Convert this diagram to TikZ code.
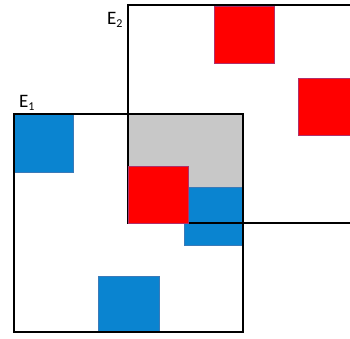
\documentclass[tikz,border=0pt]{standalone}
\usepackage{fontspec}
\setmainfont{Carlito}
\definecolor{bluesq}{HTML}{0A84D0}
\definecolor{bluerim}{HTML}{3A7AB8}
\definecolor{redsq}{HTML}{FF0000}
\definecolor{redrim}{HTML}{B0306A}
\definecolor{graysq}{HTML}{C8C8C8}
\tikzset{
  bluebox/.style={fill=bluesq,draw=bluerim,line width=0.6pt},
  redbox/.style={fill=redsq,draw=redrim,line width=0.6pt},
  frame/.style={draw=black,line width=2pt},
  elabel/.style={anchor=base west,inner sep=0pt,font=\fontsize{19}{19}\selectfont}
}
\newcommand{\subE}[1]{E\raisebox{-3.5pt}{\fontsize{12}{12}\selectfont #1}}
\begin{document}
\begin{tikzpicture}[x=1pt,y=-1pt]
\useasboundingbox (0,0) rectangle (350,338);
% intersection
\fill[graysq] (128,114) rectangle (243,223);
% blue squares
\draw[bluebox] (14,114) rectangle (73,172);
\draw[bluebox] (184,187) rectangle (243,245);
\draw[bluebox] (98,276) rectangle (159,332);
% frames
\draw[frame] (14,114) rectangle (243,332);
\draw[frame] (352,5) -- (128,5) -- (128,223) -- (352,223);
% red squares
\draw[redbox] (214,6) rectangle (274,63);
\draw[redbox] (298,78) rectangle (352,135);
\draw[redbox] (128,166) rectangle (188,223);
% labels
\node[elabel] (e1) at (19,107) {\subE{1}};
\node[elabel] (e2) at (107,24) {\subE{2}};
\end{tikzpicture}
\end{document}
